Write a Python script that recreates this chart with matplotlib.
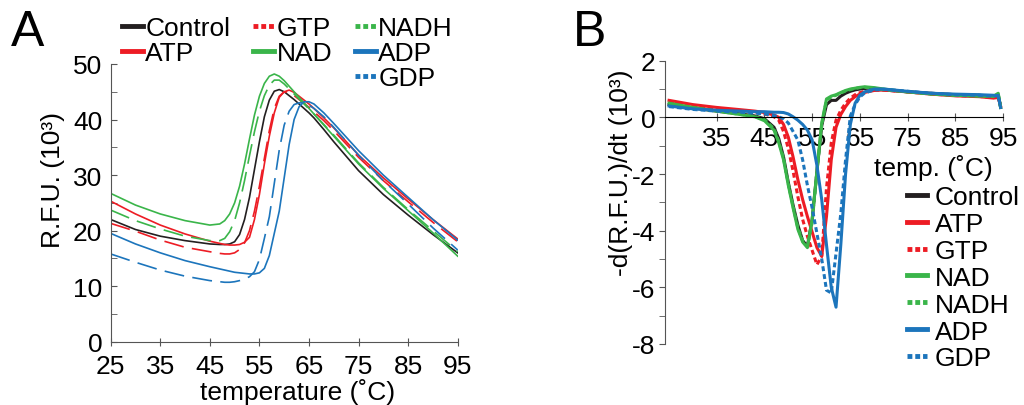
import matplotlib.pyplot as plt
from matplotlib.lines import Line2D
from matplotlib.ticker import MultipleLocator

plt.rcParams['font.family'] = ['Liberation Sans', 'DejaVu Sans']
plt.rcParams['axes.unicode_minus'] = False

# ---- data ----
names = ['Control', 'ATP', 'GTP', 'NAD', 'NADH', 'ADP', 'GDP']
colors = ['#231f20', '#ed1c24', '#ed1c24', '#3ab54a', '#3ab54a', '#1c75bc', '#1c75bc']
dashed = [False, False, True, False, True, False, True]

# panel A: raw melt curves, R.F.U. (10^3)
temp_a = [25, 30, 35, 40, 45, 47, 48, 49, 50, 51, 52, 53, 54, 55, 56, 57, 58, 59,
          60, 61, 62, 63, 64, 65, 66, 68, 70, 75, 80, 85, 90, 95]
control_a = [22.0, 20.2, 19.0, 18.2, 17.6, 17.5, 17.5, 17.6, 18.0, 19.3, 22.0, 26.0, 31.0, 36.0, 40.5, 43.5, 45.1, 45.4,
             45.0, 44.3, 43.6, 42.8, 42.0, 41.2, 40.3, 38.2, 36.0, 30.8, 26.5, 22.8, 19.3, 16.0]
atp_a = [25.3, 23.0, 21.0, 19.4, 18.1, 17.7, 17.5, 17.4, 17.4, 17.5, 17.9, 18.8, 22.0, 26.5, 32.0, 37.0, 41.2, 44.0,
         45.0, 45.3, 44.9, 44.2, 43.5, 42.8, 42.0, 40.3, 38.5, 33.6, 29.5, 25.7, 22.0, 18.5]
gtp_a = [21.3, 19.9, 18.3, 17.0, 16.2, 15.9, 15.8, 15.8, 16.0, 16.6, 17.8, 20.0, 23.5, 28.0, 33.0, 38.0, 42.0, 44.2,
         45.0, 44.9, 44.3, 43.6, 42.9, 42.2, 41.4, 39.8, 38.0, 33.2, 29.0, 25.2, 21.5, 18.0]
nad_a = [26.7, 24.6, 23.0, 21.8, 21.0, 21.2, 21.8, 23.0, 25.0, 28.0, 32.0, 36.5, 40.8, 44.2, 46.5, 47.8, 48.2, 47.8,
         47.0, 46.0, 45.0, 44.0, 43.0, 42.0, 41.0, 39.0, 37.0, 32.0, 27.6, 23.6, 19.6, 15.4]
nadh_a = [23.7, 21.8, 20.3, 19.0, 18.2, 18.2, 18.6, 19.8, 21.8, 25.0, 29.0, 33.5, 37.8, 41.5, 44.3, 46.2, 47.1, 47.1,
          46.4, 45.5, 44.6, 43.7, 42.8, 41.9, 41.0, 39.1, 37.2, 32.2, 27.8, 23.8, 20.0, 16.2]
adp_a = [19.5, 17.6, 16.0, 14.6, 13.5, 13.1, 12.9, 12.7, 12.5, 12.4, 12.3, 12.2, 12.2, 12.4, 13.2, 15.5, 19.5, 23.5,
         29.5, 35.5, 40.0, 42.3, 43.2, 43.2, 42.8, 41.2, 39.3, 34.4, 30.0, 26.0, 22.0, 18.3]
gdp_a = [15.8, 14.3, 12.9, 11.8, 11.0, 10.8, 10.7, 10.7, 10.8, 11.0, 11.3, 11.7, 12.6, 14.8, 18.6, 22.5, 28.5, 34.5,
         39.0, 41.5, 42.7, 43.0, 43.0, 42.6, 42.0, 40.5, 38.6, 33.6, 29.0, 24.8, 20.5, 16.5]

# panel B: -d(R.F.U.)/dt (10^3)
temp_b = [25, 30, 35, 40, 43, 45, 47, 48, 49, 50, 51, 52, 53, 54, 55, 56, 57, 58, 59,
          60, 61, 62, 63, 64, 65, 66, 68, 70, 75, 80, 85, 90, 93, 94, 94.5]
control_b = [0.45, 0.33, 0.22, 0.12, 0.05, -0.05, -0.35, -0.75, -1.4, -2.3, -3.1, -3.8, -4.35, -4.55, -3.6, -1.9, -0.3, 0.45, 0.6,
             0.6, 0.75, 0.85, 0.92, 0.97, 1.0, 1.02, 1.0, 0.97, 0.9, 0.85, 0.8, 0.78, 0.72, 0.8, 0.35]
atp_b = [0.6, 0.45, 0.35, 0.27, 0.22, 0.17, 0.08, 0.0, -0.25, -0.7, -1.4, -2.2, -2.9, -3.5, -4.05, -4.6, -4.9, -3.5, -1.5,
         -0.35, 0.1, 0.38, 0.6, 0.73, 0.82, 0.88, 0.95, 0.97, 0.9, 0.82, 0.76, 0.73, 0.68, 0.7, 0.4]
gtp_b = [0.55, 0.42, 0.32, 0.24, 0.18, 0.12, 0.02, -0.1, -0.5, -1.1, -1.9, -2.8, -3.6, -4.2, -4.7, -5.2, -4.9, -2.5, -0.9,
         -0.1, 0.25, 0.5, 0.68, 0.8, 0.87, 0.92, 0.96, 0.96, 0.9, 0.82, 0.77, 0.74, 0.7, 0.72, 0.4]
nad_b = [0.5, 0.35, 0.22, 0.1, 0.02, -0.12, -0.45, -0.9, -1.5, -2.4, -3.2, -3.95, -4.4, -4.6, -3.6, -1.9, -0.2, 0.65, 0.75,
         0.8, 0.88, 0.95, 1.0, 1.03, 1.06, 1.08, 1.05, 1.0, 0.9, 0.83, 0.78, 0.75, 0.75, 0.85, 0.35]
nadh_b = [0.48, 0.34, 0.22, 0.1, 0.03, -0.08, -0.4, -0.85, -1.45, -2.35, -3.15, -3.9, -4.35, -4.55, -3.7, -1.9, -0.25, 0.6, 0.72,
          0.78, 0.86, 0.93, 0.98, 1.02, 1.05, 1.06, 1.03, 0.98, 0.9, 0.82, 0.78, 0.76, 0.74, 0.82, 0.35]
adp_b = [0.4, 0.3, 0.25, 0.22, 0.2, 0.2, 0.18, 0.18, 0.17, 0.12, 0.02, -0.1, -0.25, -0.45, -0.8, -1.7, -2.9, -4.5, -6.0,
         -6.7, -4.5, -2.0, -0.25, 0.5, 0.78, 0.9, 1.0, 1.0, 0.92, 0.85, 0.82, 0.8, 0.78, 0.75, 0.35]
gdp_b = [0.38, 0.28, 0.22, 0.18, 0.15, 0.12, 0.06, 0.02, -0.05, -0.2, -0.5, -0.8, -1.5, -2.4, -3.2, -4.1, -5.0, -6.1, -6.2,
         -4.8, -3.4, -1.5, 0.05, 0.45, 0.72, 0.86, 0.97, 0.99, 0.92, 0.85, 0.8, 0.78, 0.75, 0.78, 0.38]

series_a = [control_a, atp_a, gtp_a, nad_a, nadh_a, adp_a, gdp_a]
series_b = [control_b, atp_b, gtp_b, nad_b, nadh_b, adp_b, gdp_b]

FS = 19
W, H = 1024, 406
fig = plt.figure(figsize=(W / 100, H / 100), dpi=100)

def px_axes(l, t, r, b):
    return fig.add_axes([l / W, 1 - b / H, (r - l) / W, (b - t) / H])

axA = px_axes(110.7, 65, 457.7, 342.7)
axB = px_axes(665, 61.7, 1003, 345)

# ---- panel A ----
for y, c, d in zip(series_a, colors, dashed):
    axA.plot(temp_a, y, color=c, lw=1.2, ls=(0, (12, 5)) if d else '-')
axA.set_xlim(25, 95)
axA.set_ylim(0, 50)
axA.set_xticks(range(25, 96, 10))
axA.yaxis.set_major_locator(MultipleLocator(10))
axA.yaxis.set_minor_locator(MultipleLocator(5))
for s in ['top', 'right']:
    axA.spines[s].set_visible(False)
axA.spines['left'].set_color('#555555')
axA.spines['bottom'].set_color('#555555')
axA.tick_params(axis='x', direction='inout', length=6, labelsize=FS, pad=6, color='#555555')
axA.tick_params(axis='y', which='both', direction='in', length=4, labelsize=FS, pad=6, color='#555555')

fig.text(53 / W, 1 - 180 / H, 'R.F.U. (10³)', rotation=90, ha='center', va='center', fontsize=FS)
fig.text(298 / W, 1 - 392 / H, 'temperature (˚C)', ha='center', va='center', fontsize=FS)

# ---- panel B ----
for y, c, d in zip(series_b, colors, dashed):
    axB.plot(temp_b, y, color=c, lw=2.2, ls=(0, (1.6, 1.0)) if d else '-')
axB.set_xlim(24.15, 95)
axB.set_ylim(-8, 2)
axB.set_xticks(range(35, 96, 10))
axB.yaxis.set_major_locator(MultipleLocator(2))
axB.yaxis.set_minor_locator(MultipleLocator(1))
for s in ['top', 'right']:
    axB.spines[s].set_visible(False)
axB.spines['bottom'].set_position(('data', 0))
axB.spines['left'].set_color('#555555')
axB.tick_params(axis='x', direction='inout', length=6, labelsize=FS, pad=3, color='#555555')
axB.tick_params(axis='y', which='both', direction='out', length=4, labelsize=FS, pad=3, color='#555555')

fig.text(621 / W, 1 - 173 / H, '-d(R.F.U.)/dt (10³)', rotation=90, ha='center', va='center', fontsize=FS)
fig.text(933 / W, 1 - 168 / H, 'temp. (˚C)', ha='center', va='center', fontsize=FS)

# ---- legends ----
def handle(c, d, lab=None):
    return Line2D([], [], color=c, lw=3.5, ls=(0, (1, 0.6)) if d else '-', label=lab)

hB = [handle(c, d, n) for n, c, d in zip(names, colors, dashed)]
fig.legend(handles=hB, loc='upper left', bbox_to_anchor=(907 / W, 1 - 186 / H), frameon=False,
           fontsize=FS, handlelength=0.76, handletextpad=0.3, labelspacing=0.11, borderpad=0, borderaxespad=0)

blank = Line2D([], [], color='none', label=' ')
hA = [hB[0], hB[1], blank, hB[2], hB[3], blank, hB[4], hB[5], hB[6]]
fig.legend(handles=hA, ncol=3, loc='upper left', bbox_to_anchor=(122 / W, 1 - 17 / H), frameon=False,
           fontsize=FS, handlelength=0.8, handletextpad=0.08, labelspacing=0.04, columnspacing=0.87,
           borderpad=0, borderaxespad=0)

fig.text(28 / W, 1 - 33 / H, 'A', ha='center', va='center', fontsize=36)
fig.text(590 / W, 1 - 33 / H, 'B', ha='center', va='center', fontsize=36)

fig.savefig('out.png', dpi=100)
